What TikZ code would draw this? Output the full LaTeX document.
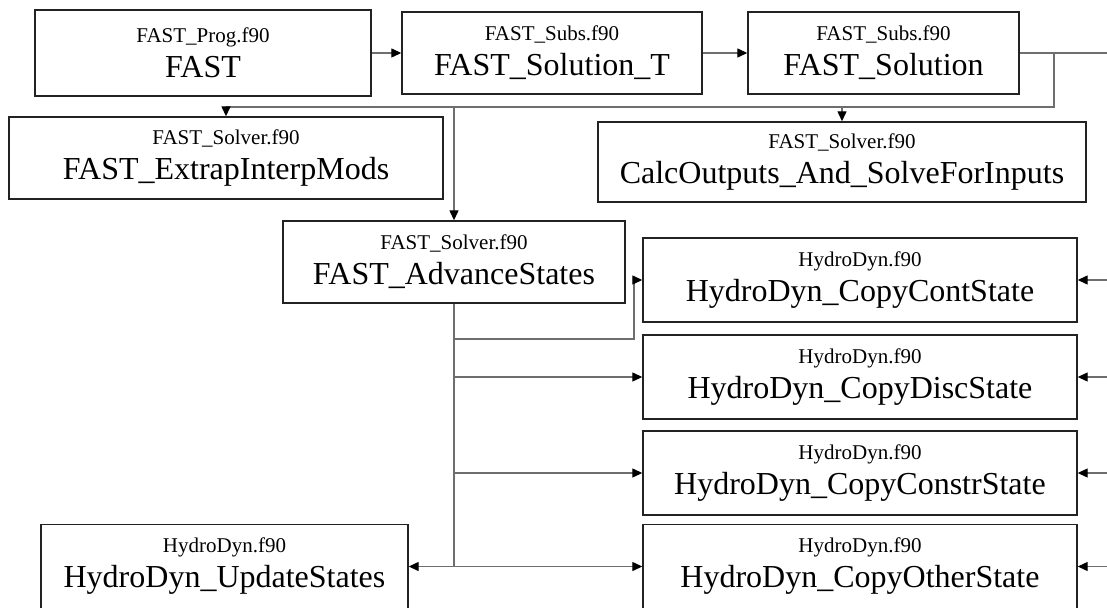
\documentclass[tikz,border=0pt]{standalone}
\usepackage{fontspec}
\setmainfont{Liberation Serif}
\usetikzlibrary{arrows.meta}
\definecolor{wire}{HTML}{6E6E6E}
\definecolor{edge}{HTML}{222222}
\newcommand{\modbox}[2]{{\fontsize{21}{21}\selectfont #1}\\{#2}}

\begin{document}
\begin{tikzpicture}[x=1pt,y=-1pt,
  box/.style={draw=edge,line width=1.4pt,fill=white,minimum height=84pt,inner sep=0pt,
    align=center,font=\fontsize{32}{35}\selectfont},
  wire/.style={draw=wire,line width=1.3pt},
  link/.style={wire,-{Triangle[length=10pt,width=9pt,color=black]}}]
\useasboundingbox (0,0) rectangle (1107,607);
\clip (0,0) rectangle (1107,607);
% top row
\node[box,minimum width=336pt,minimum height=86pt] (fast) at (203,53) {\modbox{FAST\_Prog.f90}{FAST}};
\node[box,minimum width=300pt,minimum height=82pt] (solT) at (552,53) {\modbox{FAST\_Subs.f90}{FAST\_Solution\_T}};
\node[box,minimum width=271pt,minimum height=82pt] (sol) at (883.5,53) {\modbox{FAST\_Subs.f90}{FAST\_Solution}};
% solver level
\node[box,minimum width=434pt,minimum height=82pt] (extrap) at (226,158) {\modbox{FAST\_Solver.f90}{FAST\_ExtrapInterpMods}};
\node[box,minimum width=488pt,minimum height=80pt] (calc) at (842,162) {\modbox{FAST\_Solver.f90}{CalcOutputs\_And\_SolveForInputs}};
\node[box,minimum width=342pt,minimum height=82pt] (adv) at (454,262) {\modbox{FAST\_Solver.f90}{FAST\_AdvanceStates}};
% HydroDyn routines
\node[box,minimum width=434pt] (cont) at (860,280) {\modbox{HydroDyn.f90}{HydroDyn\_CopyContState}};
\node[box,minimum width=434pt] (disc) at (860,377) {\modbox{HydroDyn.f90}{HydroDyn\_CopyDiscState}};
\node[box,minimum width=434pt] (constr) at (860,473) {\modbox{HydroDyn.f90}{HydroDyn\_CopyConstrState}};
\node[box,minimum width=434pt] (other) at (860,566.5) {\modbox{HydroDyn.f90}{HydroDyn\_CopyOtherState}};
\node[box,minimum width=367pt] (update) at (224.5,566.5) {\modbox{HydroDyn.f90}{HydroDyn\_UpdateStates}};

\draw[link] (fast.east |- solT.west) -- (solT.west);
\draw[link] (solT) -- (sol);
% FAST_Solution calls
\coordinate (outR) at (1107,53);
\coordinate (bend) at (1054,107);
\draw[wire] (sol.east) -- (outR);
\draw[wire] (sol.east -| bend) -- (bend) -- (bend -| extrap.north);
\foreach \n in {extrap,adv,calc}
  \draw[link] (bend -| \n.north) -- (\n.north);
% FAST_AdvanceStates calls
\coordinate (jog) at (634,339);
\draw[wire] (adv.south) -- (adv.south |- other.west);
\draw[link] (adv.south |- jog) -- (jog) |- (cont.west);
\foreach \n in {disc,constr,other}
  \draw[link] (adv.south |- \n.west) -- (\n.west);
\draw[link] (adv.south |- update.east) -- (update.east);
% incoming from the right
\foreach \n in {cont,disc,constr,other}
  \draw[link] (\n.east -| outR) -- (\n.east);
\end{tikzpicture}
\end{document}
